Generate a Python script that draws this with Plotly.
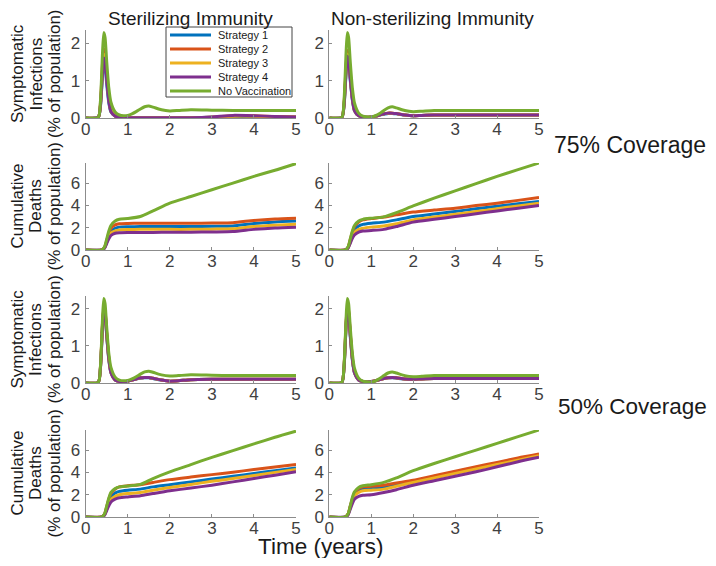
import plotly.graph_objects as go

# the page body adds an 8px margin, so the figure is drawn 16px smaller than the window
W, H = 700, 550
OFF = 8

SERIES = ["Strategy 1", "Strategy 2", "Strategy 3", "Strategy 4", "No Vaccination"]
COLORS = ["#0072BD", "#D95319", "#EDB120", "#7E2F8E", "#77AC30"]

# time grid for infections (years)
t_inf = [0, 0.3, 0.35, 0.4, 0.43, 0.46, 0.5, 0.55, 0.6, 0.7, 0.8, 0.9, 1.0, 1.1, 1.2, 1.3,
         1.4, 1.5, 1.6, 1.8, 2.0, 2.2, 2.5, 3.0, 3.5, 4.0, 4.5, 5.0]
# time grid for cumulative deaths (years)
t_dth = [0, 0.38, 0.45, 0.5, 0.55, 0.6, 0.7, 0.8, 1.0, 1.3, 1.6, 2.0, 2.5, 3.0, 3.5, 4.0, 4.5, 5.0]

# symptomatic infections (% of population)
novax_inf_ster = [0, 0.02, 0.45, 1.75, 2.28, 2.15, 1.5, 0.8, 0.42, 0.16, 0.08, 0.06, 0.07, 0.11, 0.17, 0.24,
                  0.3, 0.32, 0.29, 0.22, 0.19, 0.2, 0.22, 0.21, 0.2, 0.2, 0.2, 0.2]
novax_inf_nonster = [0, 0.02, 0.45, 1.75, 2.28, 2.15, 1.5, 0.8, 0.4, 0.13, 0.05, 0.03, 0.03, 0.06, 0.12, 0.2,
                     0.27, 0.3, 0.27, 0.2, 0.17, 0.18, 0.2, 0.2, 0.2, 0.2, 0.2, 0.2]

inf_ster_75 = [
    [0, 0.02, 0.3, 1.15, 1.5, 1.4, 0.9, 0.4, 0.16, 0.05, 0.02, 0.01, 0.01, 0.01, 0.01, 0.01, 0.01, 0.01, 0.01, 0.01, 0.01, 0.01, 0.01, 0.02, 0.04, 0.04, 0.03, 0.03],
    [0, 0.02, 0.38, 1.45, 1.85, 1.72, 1.15, 0.55, 0.2, 0.06, 0.03, 0.02, 0.02, 0.01, 0.01, 0.01, 0.01, 0.01, 0.01, 0.01, 0.01, 0.01, 0.01, 0.02, 0.06, 0.06, 0.04, 0.03],
    [0, 0.02, 0.34, 1.3, 1.7, 1.58, 1.05, 0.5, 0.18, 0.05, 0.02, 0.01, 0.01, 0.01, 0.01, 0.01, 0.01, 0.01, 0.01, 0.01, 0.01, 0.01, 0.01, 0.02, 0.05, 0.05, 0.03, 0.03],
    [0, 0.02, 0.32, 1.22, 1.6, 1.5, 1.0, 0.45, 0.17, 0.05, 0.02, 0.01, 0.01, 0.01, 0.01, 0.01, 0.01, 0.01, 0.01, 0.01, 0.01, 0.01, 0.01, 0.03, 0.07, 0.06, 0.04, 0.03],
    novax_inf_ster,
]
inf_nonster_75 = [
    [0, 0.02, 0.3, 1.2, 1.6, 1.5, 1.0, 0.48, 0.19, 0.06, 0.03, 0.02, 0.03, 0.05, 0.08, 0.1, 0.12, 0.12, 0.11, 0.08, 0.06, 0.07, 0.08, 0.08, 0.08, 0.08, 0.08, 0.08],
    [0, 0.02, 0.36, 1.4, 1.8, 1.68, 1.12, 0.55, 0.22, 0.07, 0.03, 0.02, 0.03, 0.05, 0.08, 0.11, 0.13, 0.13, 0.12, 0.08, 0.06, 0.07, 0.08, 0.08, 0.08, 0.08, 0.08, 0.08],
    [0, 0.02, 0.33, 1.3, 1.7, 1.6, 1.08, 0.52, 0.2, 0.06, 0.03, 0.02, 0.03, 0.05, 0.08, 0.11, 0.13, 0.13, 0.12, 0.08, 0.06, 0.07, 0.08, 0.08, 0.08, 0.08, 0.08, 0.08],
    [0, 0.02, 0.32, 1.25, 1.65, 1.55, 1.05, 0.5, 0.2, 0.06, 0.03, 0.02, 0.03, 0.05, 0.08, 0.11, 0.13, 0.13, 0.12, 0.08, 0.06, 0.07, 0.08, 0.08, 0.08, 0.08, 0.08, 0.08],
    novax_inf_nonster,
]
inf_ster_50 = [
    [0, 0.02, 0.38, 1.5, 1.95, 1.85, 1.25, 0.62, 0.27, 0.08, 0.04, 0.04, 0.05, 0.08, 0.11, 0.13, 0.14, 0.14, 0.12, 0.08, 0.05, 0.06, 0.09, 0.1, 0.1, 0.1, 0.1, 0.1],
    [0, 0.02, 0.42, 1.62, 2.05, 1.95, 1.35, 0.68, 0.3, 0.09, 0.04, 0.04, 0.05, 0.08, 0.11, 0.14, 0.15, 0.15, 0.13, 0.08, 0.05, 0.06, 0.09, 0.1, 0.1, 0.1, 0.1, 0.1],
    [0, 0.02, 0.4, 1.58, 2.0, 1.9, 1.3, 0.65, 0.28, 0.08, 0.04, 0.04, 0.05, 0.08, 0.11, 0.14, 0.15, 0.15, 0.13, 0.08, 0.05, 0.06, 0.09, 0.1, 0.1, 0.1, 0.1, 0.1],
    [0, 0.02, 0.4, 1.55, 2.0, 1.9, 1.3, 0.65, 0.28, 0.08, 0.04, 0.04, 0.05, 0.08, 0.11, 0.14, 0.15, 0.15, 0.13, 0.08, 0.05, 0.06, 0.09, 0.1, 0.1, 0.1, 0.1, 0.1],
    novax_inf_ster,
]
inf_nonster_50 = [
    [0, 0.02, 0.38, 1.5, 1.95, 1.85, 1.25, 0.62, 0.27, 0.08, 0.04, 0.03, 0.04, 0.06, 0.09, 0.12, 0.14, 0.14, 0.13, 0.11, 0.1, 0.11, 0.12, 0.12, 0.12, 0.12, 0.12, 0.12],
    [0, 0.02, 0.42, 1.62, 2.05, 1.95, 1.35, 0.68, 0.3, 0.09, 0.04, 0.03, 0.04, 0.06, 0.09, 0.12, 0.14, 0.15, 0.14, 0.11, 0.1, 0.11, 0.12, 0.12, 0.12, 0.12, 0.12, 0.12],
    [0, 0.02, 0.4, 1.58, 2.0, 1.9, 1.3, 0.65, 0.28, 0.08, 0.04, 0.03, 0.04, 0.06, 0.09, 0.12, 0.14, 0.15, 0.14, 0.11, 0.1, 0.11, 0.12, 0.12, 0.12, 0.12, 0.12, 0.12],
    [0, 0.02, 0.4, 1.55, 2.0, 1.9, 1.3, 0.65, 0.28, 0.08, 0.04, 0.03, 0.04, 0.06, 0.09, 0.12, 0.14, 0.15, 0.14, 0.11, 0.1, 0.11, 0.12, 0.12, 0.12, 0.12, 0.12, 0.12],
    novax_inf_nonster,
]

# cumulative deaths (% of population)
dth_ster_75 = [
    [0, 0, 0.22, 0.75, 1.3, 1.7, 1.95, 2.05, 2.08, 2.1, 2.1, 2.1, 2.1, 2.12, 2.15, 2.38, 2.52, 2.6],
    [0, 0, 0.25, 0.85, 1.5, 1.95, 2.25, 2.35, 2.38, 2.4, 2.4, 2.4, 2.4, 2.42, 2.45, 2.65, 2.78, 2.85],
    [0, 0, 0.2, 0.68, 1.15, 1.5, 1.72, 1.8, 1.83, 1.85, 1.85, 1.85, 1.85, 1.87, 1.9, 2.1, 2.22, 2.3],
    [0, 0, 0.17, 0.58, 1.0, 1.3, 1.5, 1.55, 1.57, 1.58, 1.58, 1.6, 1.6, 1.62, 1.65, 1.85, 1.98, 2.05],
    [0, 0, 0.3, 1.0, 1.7, 2.2, 2.6, 2.75, 2.82, 3.0, 3.5, 4.2, 4.8, 5.4, 6.0, 6.6, 7.15, 7.75],
]
dth_nonster_75 = [
    [0, 0, 0.24, 0.8, 1.35, 1.8, 2.15, 2.3, 2.4, 2.5, 2.7, 3.0, 3.22, 3.45, 3.7, 3.92, 4.15, 4.35],
    [0, 0, 0.28, 0.95, 1.6, 2.1, 2.5, 2.7, 2.82, 2.95, 3.15, 3.4, 3.58, 3.75, 3.98, 4.2, 4.45, 4.7],
    [0, 0, 0.2, 0.7, 1.2, 1.55, 1.85, 1.95, 2.05, 2.15, 2.35, 2.7, 2.95, 3.2, 3.45, 3.7, 3.95, 4.2],
    [0, 0, 0.18, 0.6, 1.05, 1.35, 1.6, 1.7, 1.75, 1.85, 2.1, 2.5, 2.75, 3.0, 3.25, 3.5, 3.75, 4.0],
    [0, 0, 0.3, 1.0, 1.7, 2.2, 2.6, 2.75, 2.85, 2.97, 3.35, 3.95, 4.65, 5.3, 5.95, 6.6, 7.2, 7.8],
]
dth_ster_50 = [
    [0, 0, 0.24, 0.8, 1.35, 1.8, 2.15, 2.3, 2.4, 2.5, 2.7, 2.9, 3.15, 3.4, 3.65, 3.9, 4.15, 4.4],
    [0, 0, 0.28, 0.95, 1.6, 2.1, 2.5, 2.7, 2.8, 2.9, 3.1, 3.35, 3.58, 3.8, 4.02, 4.25, 4.48, 4.7],
    [0, 0, 0.2, 0.7, 1.2, 1.55, 1.85, 2.0, 2.1, 2.2, 2.4, 2.65, 2.92, 3.2, 3.45, 3.72, 4.0, 4.25],
    [0, 0, 0.17, 0.58, 1.0, 1.35, 1.6, 1.72, 1.8, 1.9, 2.1, 2.35, 2.6, 2.85, 3.15, 3.45, 3.75, 4.05],
    [0, 0, 0.3, 1.0, 1.7, 2.2, 2.55, 2.7, 2.78, 2.92, 3.45, 4.05, 4.7, 5.35, 5.95, 6.55, 7.15, 7.7],
]
dth_nonster_50 = [
    [0, 0, 0.28, 0.92, 1.55, 2.0, 2.4, 2.5, 2.55, 2.65, 2.9, 3.2, 3.6, 4.0, 4.4, 4.8, 5.2, 5.55],
    [0, 0, 0.3, 0.98, 1.65, 2.15, 2.55, 2.7, 2.75, 2.85, 3.05, 3.3, 3.7, 4.1, 4.5, 4.9, 5.3, 5.65],
    [0, 0, 0.26, 0.85, 1.45, 1.9, 2.2, 2.35, 2.4, 2.5, 2.75, 3.1, 3.5, 3.9, 4.3, 4.7, 5.1, 5.5],
    [0, 0, 0.2, 0.7, 1.2, 1.6, 1.85, 1.95, 2.0, 2.2, 2.45, 2.85, 3.25, 3.65, 4.05, 4.5, 4.95, 5.35],
    [0, 0, 0.3, 1.0, 1.75, 2.25, 2.65, 2.8, 2.9, 3.1, 3.5, 4.15, 4.8, 5.4, 6.0, 6.6, 7.2, 7.8],
]

# panels in row-major order: (time, series, y range, y ticks)
panels = [
    (t_inf, inf_ster_75, [0, 2.35], [0, 1, 2]),
    (t_inf, inf_nonster_75, [0, 2.35], [0, 1, 2]),
    (t_dth, dth_ster_75, [0, 7.8], [0, 2, 4, 6]),
    (t_dth, dth_nonster_75, [0, 7.8], [0, 2, 4, 6]),
    (t_inf, inf_ster_50, [0, 2.35], [0, 1, 2]),
    (t_inf, inf_nonster_50, [0, 2.35], [0, 1, 2]),
    (t_dth, dth_ster_50, [0, 7.8], [0, 2, 4, 6]),
    (t_dth, dth_nonster_50, [0, 7.8], [0, 2, 4, 6]),
]


def px(x):
    """window pixel -> paper x"""
    return (x - OFF) / W


def py(y):
    """window pixel -> paper y"""
    return 1 - (y - OFF) / H


# pixel boxes of the axes (window coordinates)
col_px = [(85.7, 296), (329.3, 539)]
row_px = [(30, 118), (163, 250), (296, 383), (430, 517)]

FONT = "Liberation Sans, Arial, sans-serif"
TXT = "#1a1a1a"

fig = go.Figure()
layout = {}
for i, (tt, series, yr, yt) in enumerate(panels):
    r, c = divmod(i, 2)
    n = i + 1
    xa = "x" if n == 1 else f"x{n}"
    ya = "y" if n == 1 else f"y{n}"
    for k, ys in enumerate(series):
        fig.add_trace(go.Scatter(
            x=tt, y=ys, mode="lines", name=SERIES[k],
            line=dict(color=COLORS[k], width=3, shape="spline", smoothing=0.6),
            xaxis=xa, yaxis=ya, showlegend=False,
        ))
    x0, x1 = col_px[c]
    y0, y1 = row_px[r]
    axis_style = dict(showline=True, linecolor="#8c8c8c", linewidth=1, ticks="inside", ticklen=3,
                      tickcolor="#8c8c8c", showgrid=False, zeroline=False, automargin=False,
                      tickfont=dict(family=FONT, size=17, color="#404040"))
    layout[f"xaxis{'' if n == 1 else n}"] = dict(
        domain=[px(x0), px(x1)], range=[0, 5], tickvals=[0, 1, 2, 3, 4, 5],
        anchor=ya, ticklabelstandoff=-4, **axis_style)
    layout[f"yaxis{'' if n == 1 else n}"] = dict(
        domain=[py(y1), py(y0)], range=yr, tickvals=yt,
        anchor=xa, ticklabelstandoff=1, **axis_style)

fig.update_layout(**layout)

annotations = [
    dict(text="Sterilizing Immunity", x=px(190), y=py(18), font=dict(size=19)),
    dict(text="Non-sterilizing Immunity", x=px(433), y=py(18), font=dict(size=19)),
    dict(text="75% Coverage", x=px(630), y=py(145), font=dict(size=23)),
    dict(text="50% Coverage", x=px(632), y=py(406), font=dict(size=22.5)),
    dict(text="Time (years)", x=px(320), y=py(546), font=dict(size=22.5)),
]
# three-line rotated y titles, one annotation per line
ylabel_lines = [["Symptomatic", "Infections", "(% of population)"],
                ["Cumulative", "Deaths", "(% of population)"]]
line_x = [17, 35.5, 54]
for r in range(4):
    yc = (row_px[r][0] + row_px[r][1]) / 2
    for j, txt in enumerate(ylabel_lines[r % 2]):
        annotations.append(dict(text=txt, x=px(line_x[j]), y=py(yc), textangle=-90,
                                font=dict(size=17)))
for a in annotations:
    a.update(xref="paper", yref="paper", showarrow=False, xanchor="center", yanchor="middle")
    a["font"].update(family=FONT, color=TXT)

# legend box inside the top-left panel
shapes = [dict(type="rect", xref="paper", yref="paper", x0=px(166), x1=px(292),
               y0=py(97), y1=py(27), line=dict(color="#444444", width=1),
               fillcolor="white", layer="above")]
for k, name in enumerate(SERIES):
    yy = py(35 + 14 * k)
    shapes.append(dict(type="line", xref="paper", yref="paper", x0=px(170), x1=px(211),
                       y0=yy, y1=yy, line=dict(color=COLORS[k], width=3), layer="above"))
    annotations.append(dict(text=name, xref="paper", yref="paper", x=px(216), y=yy,
                            xanchor="left", yanchor="middle", showarrow=False,
                            font=dict(family=FONT, size=11, color=TXT)))

fig.update_layout(
    width=W, height=H,
    margin=dict(l=0, r=0, t=0, b=0, autoexpand=False),
    paper_bgcolor="white", plot_bgcolor="white",
    annotations=annotations, shapes=shapes,
    showlegend=False,
)

fig.write_html("out.html")
